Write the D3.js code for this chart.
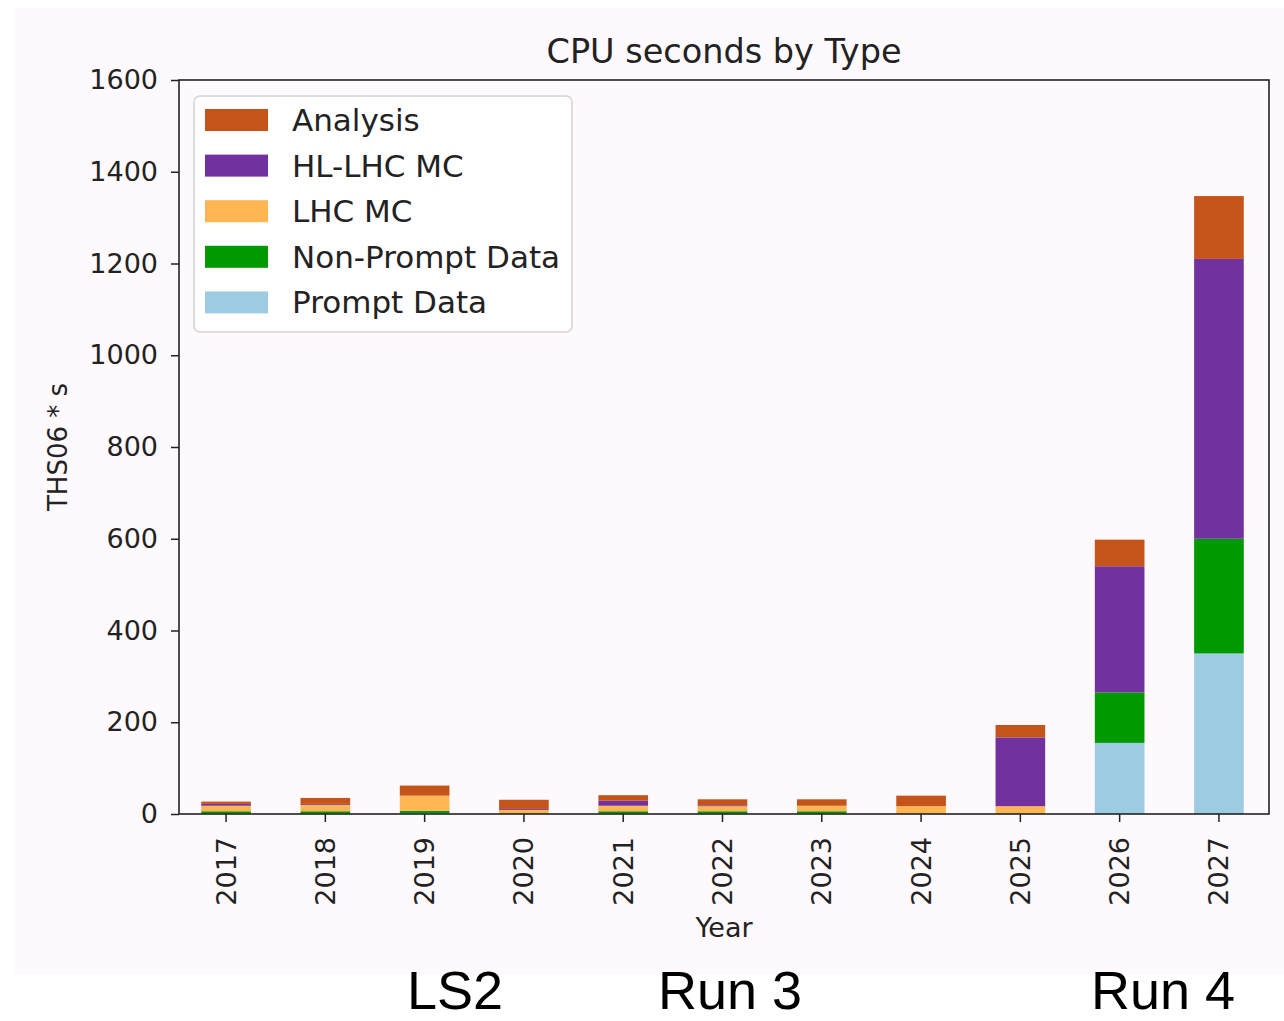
<!DOCTYPE html>
<html>
<head>
<meta charset="utf-8">
<script src="https://cdn.jsdelivr.net/npm/d3@7"></script>
<style>
  html, body { margin: 0; padding: 0; background: #ffffff; }
  svg { display: block; }
  text { font-family: "DejaVu Sans", sans-serif; fill: #222; }
</style>
</head>
<body>
<script>
// Years on the x axis
const years = ["2017","2018","2019","2020","2021","2022","2023","2024","2025","2026","2027"];

// CPU seconds per processing type (THS06 * s)
const promptData    = [1, 1, 2, 0, 1, 1, 1, 0, 0, 155, 350];
const nonPromptData = [5, 5, 5, 1, 5, 5, 5, 0, 0, 110, 250];
const lhcMC         = [12, 14, 33, 8, 12, 11, 12, 17, 17, 0, 0];
const hlLhcMC       = [4, 2, 0, 2, 11, 2, 0, 0, 150, 275, 610];
const analysis      = [5, 13, 22, 20, 12, 13, 14, 23, 27, 58, 137];

// Series names, bottom of the stack first
const seriesNames = ["Prompt Data", "Non-Prompt Data", "LHC MC", "HL-LHC MC", "Analysis"];
const seriesColors = ["#9dcbe1", "#009a00", "#ffb552", "#7132a0", "#c4541a"];

const yTicks = [0, 200, 400, 600, 800, 1000, 1200, 1400, 1600];

// Run period annotations under the chart
const periodLabels = ["LS2", "Run 3", "Run 4"];
const periodCenters = [455, 730, 1163];

const W = 1284, H = 1021;
const plot = { left: 179, right: 1269, top: 80, bottom: 814 };

const svg = d3.select("body").append("svg")
  .attr("width", W).attr("height", H);

// figure background
svg.append("rect")
  .attr("x", 15).attr("y", 8)
  .attr("width", W - 15).attr("height", 967)
  .attr("fill", "#fdf9fd");

const table = years.map((y, i) => ({
  year: y,
  "Prompt Data": promptData[i],
  "Non-Prompt Data": nonPromptData[i],
  "LHC MC": lhcMC[i],
  "HL-LHC MC": hlLhcMC[i],
  "Analysis": analysis[i]
}));

const stacked = d3.stack().keys(seriesNames)(table);

const x = d3.scaleBand()
  .domain(years)
  .range([plot.left, plot.right - 3])
  .paddingInner(0.5)
  .paddingOuter(0.224);

const y = d3.scaleLinear()
  .domain([0, 1600])
  .range([plot.bottom, plot.top]);

const color = d3.scaleOrdinal().domain(seriesNames).range(seriesColors);

// bars
svg.append("g").selectAll("g")
  .data(stacked)
  .join("g")
  .attr("fill", d => color(d.key))
  .selectAll("rect")
  .data(d => d)
  .join("rect")
  .attr("x", d => x(d.data.year))
  .attr("width", x.bandwidth())
  .attr("y", d => y(d[1]))
  .attr("height", d => y(d[0]) - y(d[1]));

// y axis
const yAxis = svg.append("g")
  .attr("transform", `translate(${plot.left},0)`)
  .call(d3.axisLeft(y).tickValues(yTicks).tickSize(8).tickPadding(13).tickFormat(d3.format("d")));
yAxis.select(".domain").remove();
yAxis.selectAll(".tick line").attr("stroke", "#222").attr("stroke-width", 1.5);
yAxis.selectAll(".tick text")
  .style("font-family", "DejaVu Sans, sans-serif")
  .style("font-size", "27px")
  .attr("fill", "#222");

// x axis
const xAxis = svg.append("g")
  .attr("transform", `translate(0,${plot.bottom})`)
  .call(d3.axisBottom(x).tickSize(8).tickPadding(0));
xAxis.select(".domain").remove();
xAxis.selectAll(".tick line").attr("stroke", "#222").attr("stroke-width", 1.5);
xAxis.selectAll(".tick text")
  .style("font-family", "DejaVu Sans, sans-serif")
  .style("font-size", "27px")
  .attr("fill", "#222")
  .attr("transform", "rotate(-90)")
  .attr("text-anchor", "end")
  .attr("dominant-baseline", "central")
  .attr("x", -23)
  .attr("y", 0)
  .attr("dy", "0");

// axes frame
svg.append("rect")
  .attr("x", plot.left).attr("y", plot.top)
  .attr("width", plot.right - plot.left)
  .attr("height", plot.bottom - plot.top)
  .attr("fill", "none")
  .attr("stroke", "#222")
  .attr("stroke-width", 1.6);

// title
svg.append("text")
  .attr("x", (plot.left + plot.right) / 2)
  .attr("y", 63)
  .attr("text-anchor", "middle")
  .style("font-size", "33.5px")
  .text("CPU seconds by Type");

// axis labels
svg.append("text")
  .attr("x", (plot.left + plot.right) / 2)
  .attr("y", 937)
  .attr("text-anchor", "middle")
  .style("font-size", "27px")
  .text("Year");

svg.append("text")
  .attr("transform", `translate(67,${(plot.top + plot.bottom) / 2}) rotate(-90)`)
  .attr("text-anchor", "middle")
  .style("font-size", "26px")
  .text("THS06 * s");

// legend (top entry is the top of the stack)
const legend = svg.append("g").attr("transform", "translate(194,96)");
legend.append("rect")
  .attr("width", 378).attr("height", 236)
  .attr("rx", 6).attr("ry", 6)
  .attr("fill", "#ffffff").attr("fill-opacity", 0.8)
  .attr("stroke", "#d4d4d4").attr("stroke-width", 1.5);

const legendItems = seriesNames.slice().reverse();
const rows = legend.selectAll("g.item")
  .data(legendItems)
  .join("g")
  .attr("class", "item")
  .attr("transform", (d, i) => `translate(0,${24 + i * 45.6})`);
rows.append("rect")
  .attr("x", 11).attr("y", -11)
  .attr("width", 63).attr("height", 22)
  .attr("fill", d => color(d));
rows.append("text")
  .attr("x", 98).attr("y", 0)
  .attr("dominant-baseline", "central")
  .style("font-size", "31px")
  .text(d => d);

// run periods
svg.selectAll("text.period")
  .data(periodLabels)
  .join("text")
  .attr("class", "period")
  .attr("x", (d, i) => periodCenters[i])
  .attr("y", 1009)
  .attr("text-anchor", "middle")
  .style("font-family", "Liberation Sans, Arial, sans-serif")
  .style("font-size", "54px")
  .style("fill", "#000")
  .text(d => d);
</script>
</body>
</html>
